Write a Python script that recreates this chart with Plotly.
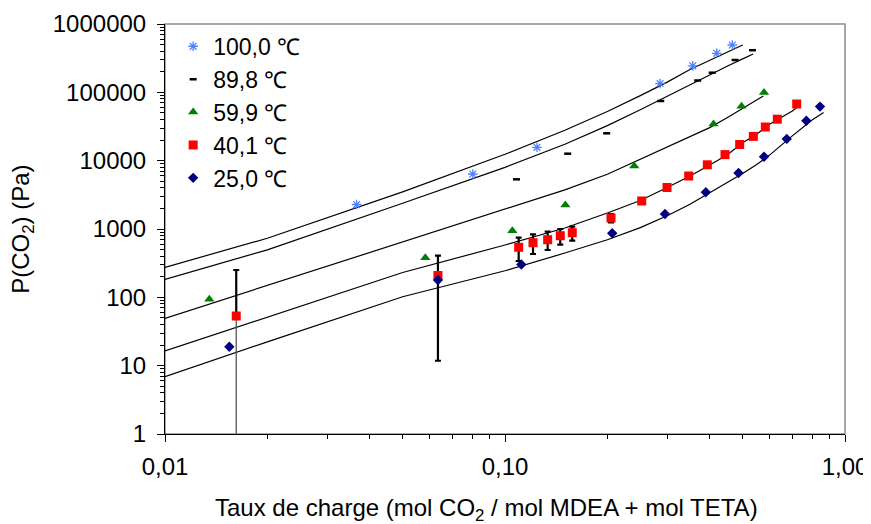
import plotly.graph_objects as go

# ---------------- data ----------------
# experimental points
x_100 = [0.0366, 0.0804, 0.1242, 0.2858, 0.3565, 0.4195, 0.4662]
y_100 = [2282, 6378, 15690, 134700, 244500, 372500, 492800]

x_90 = [0.1081, 0.1529, 0.1991, 0.2871, 0.3688, 0.4068, 0.4750, 0.5344]
y_90 = [5336, 12650, 25150, 74670, 148960, 193800, 297300, 413500]

x_60 = [0.0135, 0.0583, 0.1051, 0.1505, 0.2400, 0.4104, 0.4962, 0.5779]
y_60 = [93.5, 380, 944, 2244, 8351, 34400, 62660, 99430]

x_40 = [0.0162, 0.0635, 0.1097, 0.1209, 0.1335, 0.1454, 0.1577, 0.2050, 0.2524,
        0.2996, 0.3470, 0.3936, 0.4437, 0.4900, 0.5375, 0.5830, 0.6323, 0.7210]
y_40 = [53.3, 208.6, 539.5, 630, 697, 797.6, 882.6, 1449, 2570,
        4047, 5964, 8698, 12265, 17240, 22650, 31090, 40440, 67480]
# error bar bounds (upper / lower values), same order as x_40
hi_40 = [251, 406.5, 745.6, 836, 912.6, 999.6, 1080, 1657, None,
         None, None, None, None, None, None, None, None, None]
lo_40 = [None, 11.8, 340, 430.5, 492.6, 589, 674, 1253, None,
         None, None, None, None, None, None, None, None, None]
lo_first_40 = 0.5  # lower bar of first point runs off the axis

x_25 = [0.01546, 0.0635, 0.1117, 0.2067, 0.2955, 0.3897, 0.4862, 0.5779, 0.6739, 0.7697, 0.8443]
y_25 = [18.9, 179.3, 302, 864.8, 1657, 3454, 6597, 11430, 20820, 38440, 61820]

# model curves
cx_100 = [0.01, 0.02, 0.05, 0.1, 0.15, 0.2, 0.25, 0.3, 0.35, 0.4, 0.45, 0.5]
cy_100 = [275, 733, 3500, 12400, 27800, 52300, 89400, 141000, 216000, 295000, 387000, 493000]

cx_90 = [0.01, 0.02, 0.05, 0.1, 0.15, 0.2, 0.25, 0.3, 0.35, 0.4, 0.45, 0.5, 0.537]
cy_90 = [183.5, 496, 2384, 7990, 17360, 32600, 55700, 87800, 131500, 183000, 241200, 308500, 364000]

cx_60 = [0.01, 0.02, 0.05, 0.1, 0.15, 0.2, 0.25, 0.3, 0.35, 0.4, 0.45, 0.5, 0.575]
cy_60 = [49.3, 149, 641, 1948, 3746, 6317, 10400, 15950, 22580, 30460, 42540, 58190, 88380]

cx_40 = [0.01, 0.02, 0.05, 0.1, 0.15, 0.2, 0.25, 0.3, 0.35, 0.4, 0.45, 0.5, 0.55, 0.6, 0.7, 0.7324]
cy_40 = [16.4, 51.5, 230.8, 583, 1034, 1714, 2612, 4047, 5964, 8640, 12100, 18310, 24390, 34170, 53300, 63100]

cx_25 = [0.01, 0.02, 0.05, 0.1, 0.15, 0.2, 0.25, 0.3, 0.35, 0.4, 0.45, 0.5, 0.55, 0.6, 0.7, 0.8, 0.865]
cy_25 = [6.89, 22.3, 102, 245, 445, 695, 1048, 1560, 2306, 3363, 4725, 6488, 8816, 12060, 23030, 39360, 50680]

# axis ticks
x_tickvals = [0.01, 0.1, 1]
x_ticktext = ["0,01", "0,10", "1,00"]
y_tickvals = [1, 10, 100, 1000, 10000, 100000, 1000000]
y_ticktext = ["1", "10", "100", "1000", "10000", "100000", "1000000"]

legend_names = ["100,0 \u2103", "89,8 \u2103", "59,9 \u2103", "40,1 \u2103", "25,0 \u2103"]

FONT = "Liberation Sans, Arial, sans-serif"

fig = go.Figure()

# model curves
for cx, cy in [(cx_100, cy_100), (cx_90, cy_90), (cx_60, cy_60), (cx_40, cy_40), (cx_25, cy_25)]:
    fig.add_trace(go.Scatter(x=cx, y=cy, mode="lines", line=dict(color="black", width=1.2),
                             showlegend=False, hoverinfo="skip"))

# lower bar of the first 40.1 point (thin, grey)
fig.add_trace(go.Scatter(x=[x_40[0]], y=[y_40[0]], mode="markers", marker=dict(opacity=0),
                         showlegend=False, hoverinfo="skip",
                         error_y=dict(type="data", symmetric=False, array=[0],
                                      arrayminus=[y_40[0] - lo_first_40],
                                      color="#555555", thickness=1.3, width=0)))

plus_40 = [(h - y) if h is not None else 0 for h, y in zip(hi_40, y_40)]
minus_40 = [(y - l) if l is not None else 0 for l, y in zip(lo_40, y_40)]

fig.add_trace(go.Scatter(x=x_100, y=y_100, mode="markers", name=legend_names[0], legendgroup="a",
                         marker=dict(symbol="asterisk-open", size=8, color="#4f82ff",
                                     line=dict(color="#4f82ff", width=1.3))))
fig.add_trace(go.Scatter(x=x_90, y=y_90, mode="markers", name=legend_names[1], legendgroup="b",
                         marker=dict(symbol="line-ew-open", size=5, color="black",
                                     line=dict(color="black", width=2.5))))
fig.add_trace(go.Scatter(x=x_60, y=y_60, mode="markers", name=legend_names[2], legendgroup="c",
                         marker=dict(symbol="triangle-up", size=9, color="#008000")))
fig.add_trace(go.Scatter(x=x_40, y=y_40, mode="markers", name=legend_names[3], legendgroup="d",
                         marker=dict(symbol="square", size=9, color="#ff0000"),
                         error_y=dict(type="data", symmetric=False, array=plus_40,
                                      arrayminus=minus_40, color="black", thickness=2.2, width=3)))
fig.add_trace(go.Scatter(x=x_25, y=y_25, mode="markers", name=legend_names[4], legendgroup="e",
                         marker=dict(symbol="diamond", size=8, color="#000080")))

axis_common = dict(type="log", showgrid=False, zeroline=False, showline=True, linecolor="black",
                   linewidth=1, ticks="outside", tickcolor="black", ticklen=7, tickwidth=1,
                   tickfont=dict(family=FONT, size=24, color="black"),
                   minor=dict(ticks="outside", ticklen=4, tickcolor="black", dtick="D1", showgrid=False))

fig.update_xaxes(range=[-2, 0], tickmode="array", tickvals=x_tickvals, ticktext=x_ticktext,
                 ticklabelstandoff=4, **axis_common)
fig.update_yaxes(range=[0, 6], tickmode="array", tickvals=y_tickvals, ticktext=y_ticktext,
                 ticklabelstandoff=6, **axis_common)

fig.add_shape(type="rect", xref="paper", yref="paper", x0=0, x1=1, y0=0, y1=1,
              line=dict(color="#8c8c8c", width=1.5), layer="below")

fig.add_annotation(text="Taux de charge (mol CO<sub>2</sub> / mol MDEA + mol TETA)",
                   xref="paper", yref="paper", x=0.4735, y=-0.183, yanchor="middle",
                   showarrow=False, font=dict(family=FONT, size=24, color="black"))
fig.add_annotation(text="P(CO<sub>2</sub>) (Pa)", textangle=-90,
                   xref="paper", yref="paper", x=-0.2105, y=0.5, xanchor="center", yanchor="middle",
                   showarrow=False, font=dict(family=FONT, size=24, color="black"))

# the page body adds an 8 px offset, so the figure is 8 px smaller on each side
fig.update_layout(width=863, height=516, margin=dict(l=157, r=26, t=16, b=90, autoexpand=False),
                  paper_bgcolor="white", plot_bgcolor="white",
                  font=dict(family=FONT, size=23, color="black"),
                  legend=dict(x=0.012, y=0.998, xanchor="left", yanchor="top",
                              bgcolor="rgba(0,0,0,0)", font=dict(family=FONT, size=23),
                              tracegroupgap=0, itemsizing="trace"))

fig.write_html("out.html")
